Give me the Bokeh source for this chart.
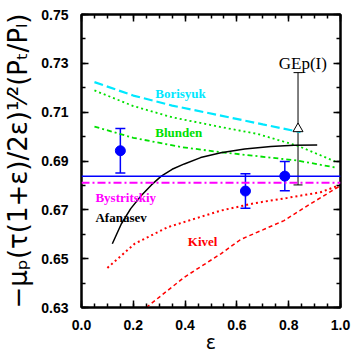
import math
from bokeh.plotting import figure
from bokeh.models import (FixedTicker, PrintfTickFormatter, LinearAxis, Label,
                          Whisker, ColumnDataSource, TeeHead, Span)
from bokeh.embed import file_html
from bokeh.resources import INLINE

# ---------------- data ----------------
x_ticks = [0.0, 0.2, 0.4, 0.6, 0.8, 1.0]
x_minor = [0.0, 0.05, 0.1, 0.15, 0.2, 0.25, 0.3, 0.35, 0.4, 0.45, 0.5,
           0.55, 0.6, 0.65, 0.7, 0.75, 0.8, 0.85, 0.9, 0.95, 1.0]
y_ticks = [0.63, 0.65, 0.67, 0.69, 0.71, 0.73, 0.75]
y_minor = [0.63, 0.64, 0.65, 0.66, 0.67, 0.68, 0.69, 0.70, 0.71, 0.72,
           0.73, 0.74, 0.75]

borisyuk_eps = [0.05, 0.2, 0.35, 0.538, 0.7, 0.846]
borisyuk_val = [0.7223, 0.7168, 0.7127, 0.7086, 0.7050, 0.7018]

blunden_hi_eps = [0.05, 0.2, 0.35, 0.538, 0.679, 0.833, 0.987]
blunden_hi_val = [0.7189, 0.7125, 0.7079, 0.7039, 0.7011, 0.6963, 0.6895]

blunden_lo_eps = [0.05, 0.2, 0.385, 0.538, 0.833, 0.987]
blunden_lo_val = [0.7041, 0.6995, 0.6957, 0.6936, 0.6902, 0.6872]

afanasev_eps = [0.119, 0.154, 0.19, 0.231, 0.27, 0.308, 0.35, 0.397, 0.46,
                0.538, 0.63, 0.731, 0.82, 0.91]
afanasev_val = [0.6561, 0.6643, 0.6705, 0.6759, 0.6802, 0.6838, 0.6866, 0.6888,
                0.6914, 0.6934, 0.6949, 0.6959, 0.6964, 0.6966]

kivel_dot_eps = [0.1, 0.205, 0.333, 0.538, 0.667, 0.795, 0.923, 0.994]
kivel_dot_val = [0.6462, 0.6561, 0.6629, 0.6697, 0.6727, 0.6749, 0.6772, 0.6800]

kivel_dash_eps = [0.25, 0.397, 0.538, 0.615, 0.7, 0.782, 0.885, 0.995]
kivel_dash_val = [0.6300, 0.6424, 0.6520, 0.6579, 0.6618, 0.6656, 0.6725, 0.6796]

data_eps = [0.15, 0.633, 0.785]
data_val = [0.6942, 0.6777, 0.6838]
data_err = [0.0091, 0.0071, 0.0060]

gep_eps = [0.836]
gep_val = [0.7032]
gep_err = [0.0230]

fit_value = 0.6838
bystritskiy_value = 0.6811

y_title = "\u2212\u03bc\u209a(\u03c4(1+\u03b5)/2\u03b5)\u00b9\u2044\u00b2(P\u209c/P\u2097)"
x_title = "\u03b5"

# ---------------- layout (page pixels) ----------------
PAGE_W, PAGE_H = 353, 357
PL, PR, PT, PB = 80, 340, 14, 307  # plot frame in page pixels
X0, X1, Y0, Y1 = 0.0, 1.0, 0.63, 0.75


def dx(px):
    return X0 + (px - PL) / (PR - PL) * (X1 - X0)


def dy(py):
    return Y1 - (py - PT) / (PB - PT) * (Y1 - Y0)


p = figure(width=PAGE_W, height=PAGE_H, x_range=(X0, X1), y_range=(Y0, Y1),
           output_backend="svg", toolbar_location=None,
           min_border_left=PL, min_border_right=PAGE_W - PR,
           min_border_top=PT, min_border_bottom=PAGE_H - PB,
           background_fill_color="white", border_fill_color="white")
p.xgrid.visible = False
p.ygrid.visible = False
p.outline_line_color = "black"
p.outline_line_width = 2

tick_font = "Liberation Sans"


def style_axis(ax, labels=True):
    ax.axis_line_width = 2
    ax.axis_line_color = "black"
    ax.major_tick_in = 7
    ax.major_tick_out = 0
    ax.minor_tick_in = 4
    ax.minor_tick_out = 0
    ax.major_tick_line_width = 1.5
    ax.minor_tick_line_width = 1.5
    ax.major_tick_line_color = "black"
    ax.minor_tick_line_color = "black"
    if labels:
        ax.major_label_text_font = tick_font
        ax.major_label_text_font_style = "bold"
        ax.major_label_text_font_size = "14px"
        ax.major_label_text_color = "black"
    else:
        ax.major_label_text_font_size = "0px"
        ax.major_label_text_color = None
        ax.major_label_standoff = 0


xax = p.xaxis[0]
xax.ticker = FixedTicker(ticks=x_ticks, minor_ticks=x_minor)
xax.formatter = PrintfTickFormatter(format="%.1f")
style_axis(xax)
xax.major_label_standoff = 12
xax.axis_label = x_title
xax.axis_label_text_font = "DejaVu Sans"
xax.axis_label_text_font_style = "normal"
xax.axis_label_text_font_size = "19px"
xax.axis_label_text_color = "black"
xax.axis_label_standoff = -2

yax = p.yaxis[0]
yax.ticker = FixedTicker(ticks=y_ticks, minor_ticks=y_minor)
yax.formatter = PrintfTickFormatter(format="%.2f")
style_axis(yax)
yax.major_label_standoff = 13
yax.axis_label = y_title
yax.axis_label_text_font = "DejaVu Sans"
yax.axis_label_text_font_style = "normal"
yax.axis_label_text_font_size = "26px"
yax.axis_label_text_color = "black"
yax.axis_label_standoff = 5

top = LinearAxis(ticker=FixedTicker(ticks=x_ticks, minor_ticks=x_minor))
style_axis(top, labels=False)
p.add_layout(top, "above")
right = LinearAxis(ticker=FixedTicker(ticks=y_ticks, minor_ticks=y_minor))
style_axis(right, labels=False)
p.add_layout(right, "right")

# ---------------- theory curves ----------------
CYAN = "#00e8ff"
GREEN = "#00e000"
MAGENTA = "#ff00ff"
RED = "#ff0000"
BLUE = "#0000ff"

p.line(borisyuk_eps, borisyuk_val, line_color=CYAN, line_width=2.2, line_dash="9 4")
p.line(blunden_hi_eps, blunden_hi_val, line_color=GREEN, line_width=1.8, line_dash="2 3")
p.line(blunden_lo_eps, blunden_lo_val, line_color=GREEN, line_width=1.8, line_dash="5 3 2 3")
p.line(afanasev_eps, afanasev_val, line_color="black", line_width=1.5)
p.line(kivel_dot_eps, kivel_dot_val, line_color=RED, line_width=2, line_dash="2 3")
p.line(kivel_dash_eps, kivel_dash_val, line_color=RED, line_width=1.5, line_dash="4 3")

p.add_layout(Span(location=fit_value, dimension="width", line_color=BLUE, line_width=1.5))
p.add_layout(Span(location=bystritskiy_value, dimension="width", line_color=MAGENTA,
                  line_width=2, line_dash="8 3 2 3"))

# ---------------- data points ----------------
src = ColumnDataSource(dict(x=data_eps, y=data_val,
                            lo=[v - e for v, e in zip(data_val, data_err)],
                            hi=[v + e for v, e in zip(data_val, data_err)]))
p.add_layout(Whisker(base="x", lower="lo", upper="hi", source=src,
                     line_color=BLUE, line_width=1.5,
                     upper_head=TeeHead(size=10, line_color=BLUE, line_width=1.5),
                     lower_head=TeeHead(size=10, line_color=BLUE, line_width=1.5)))
p.scatter("x", "y", source=src, marker="circle", size=10,
          fill_color=BLUE, line_color=BLUE)

gsrc = ColumnDataSource(dict(x=gep_eps, y=gep_val,
                             lo=[v - e for v, e in zip(gep_val, gep_err)],
                             hi=[v + e for v, e in zip(gep_val, gep_err)]))
p.add_layout(Whisker(base="x", lower="lo", upper="hi", source=gsrc,
                     line_color="black", line_width=1,
                     upper_head=TeeHead(size=9, line_color="black", line_width=1),
                     lower_head=TeeHead(size=9, line_color="black", line_width=1)))
p.scatter("x", "y", source=gsrc, marker="triangle", size=10,
          fill_color="white", line_color="black", line_width=1)

# ---------------- curve labels ----------------
lab_font = "Liberation Serif"
curve_labels = [
    ("Borisyuk", 154, 92.7, CYAN),
    ("Blunden", 154, 131.7, GREEN),
    ("Bystritskiy", 94, 196.7, MAGENTA),
    ("Afanasev", 94, 216.7, "black"),
    ("Kivel", 186.7, 241, RED),
]
for txt, px, py, col in curve_labels:
    p.add_layout(Label(x=dx(px), y=dy(py), text=txt, text_color=col,
                       text_font=lab_font, text_font_style="bold",
                       text_font_size="13px", text_align="left",
                       text_baseline="alphabetic"))
p.add_layout(Label(x=dx(278), y=dy(62.7), text="GEp(I)", text_color="black",
                   text_font=lab_font, text_font_size="17px",
                   text_align="left", text_baseline="alphabetic"))

open("out.html", "w").write(file_html(p, INLINE))
